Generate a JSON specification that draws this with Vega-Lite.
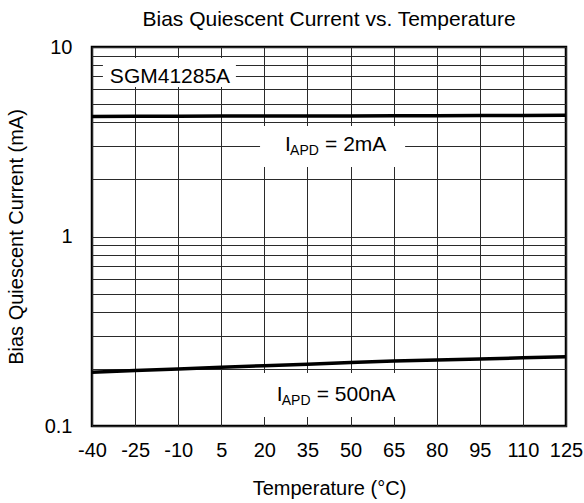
{
  "$schema": "https://vega.github.io/schema/vega-lite/v6.json",
  "width": 474,
  "height": 379,
  "autosize": {"type": "none"},
  "padding": {"left": 92, "top": 47, "right": 18, "bottom": 77},
  "background": "white",
  "config": {
    "font": "Liberation Sans",
    "view": {"stroke": "black", "strokeWidth": 2.5},
    "axis": {
      "domain": false,
      "ticks": false,
      "labelColor": "black",
      "labelFontSize": 20,
      "titleFontSize": 20,
      "titleFontWeight": "normal",
      "titleColor": "black",
      "gridColor": "#2a2a2a",
      "gridWidth": 1,
      "gridOpacity": 1
    }
  },
  "title": {
    "text": "Bias Quiescent Current vs. Temperature",
    "fontSize": 21,
    "fontWeight": "normal",
    "color": "black",
    "offset": 7
  },
  "datasets": {
    "curves": [
      {"t": -40, "i": 4.30, "s": "2mA"},
      {"t": -25, "i": 4.31, "s": "2mA"},
      {"t": -10, "i": 4.31, "s": "2mA"},
      {"t": 5, "i": 4.32, "s": "2mA"},
      {"t": 20, "i": 4.32, "s": "2mA"},
      {"t": 35, "i": 4.33, "s": "2mA"},
      {"t": 50, "i": 4.33, "s": "2mA"},
      {"t": 65, "i": 4.34, "s": "2mA"},
      {"t": 80, "i": 4.34, "s": "2mA"},
      {"t": 95, "i": 4.35, "s": "2mA"},
      {"t": 110, "i": 4.35, "s": "2mA"},
      {"t": 125, "i": 4.36, "s": "2mA"},
      {"t": -40, "i": 0.192, "s": "500nA"},
      {"t": -25, "i": 0.196, "s": "500nA"},
      {"t": -10, "i": 0.200, "s": "500nA"},
      {"t": 5, "i": 0.204, "s": "500nA"},
      {"t": 20, "i": 0.208, "s": "500nA"},
      {"t": 35, "i": 0.212, "s": "500nA"},
      {"t": 50, "i": 0.216, "s": "500nA"},
      {"t": 65, "i": 0.220, "s": "500nA"},
      {"t": 80, "i": 0.223, "s": "500nA"},
      {"t": 95, "i": 0.226, "s": "500nA"},
      {"t": 110, "i": 0.229, "s": "500nA"},
      {"t": 125, "i": 0.232, "s": "500nA"}
    ],
    "boxes": [
      {"x1": -36.2, "x2": 10.1, "y1": 8.75, "y2": 6.15},
      {"x1": 18.5, "x2": 69, "y1": 3.83, "y2": 2.33},
      {"x1": 17.8, "x2": 72.7, "y1": 0.1905, "y2": 0.1116}
    ],
    "names": [
      {"x": -12.85, "y": 6.43, "label": "SGM41285A"}
    ],
    "iapd": [
      {"x": 27.2, "y": 2.83, "rest": "= 2mA"},
      {"x": 24.3, "y": 0.136, "rest": "= 500nA"}
    ]
  },
  "layer": [
    {
      "data": {"name": "boxes"},
      "mark": {"type": "rect", "color": "white", "strokeWidth": 0},
      "encoding": {
        "x": {
          "field": "x1", "type": "quantitative",
          "scale": {"domain": [-40, 125], "nice": false, "zero": false},
          "axis": {
            "values": [-40, -25, -10, 5, 20, 35, 50, 65, 80, 95, 110, 125],
            "grid": true,
            "labelPadding": 14,
            "labelFlush": false,
            "labelExpr": "'' + datum.value",
            "titlePadding": 18,
            "title": "Temperature (°C)"
          }
        },
        "x2": {"field": "x2"},
        "y": {
          "field": "y1", "type": "quantitative",
          "scale": {"type": "log", "domain": [0.1, 10], "nice": false},
          "axis": {
            "values": [0.1, 0.2, 0.3, 0.4, 0.5, 0.6, 0.7, 0.8, 0.9, 1, 2, 3, 4, 5, 6, 7, 8, 9, 10],
            "grid": true,
            "labelPadding": 20,
            "labelFlush": false,
            "labelExpr": "datum.value == 0.1 ? '0.1' : datum.value == 1 ? '1' : datum.value == 10 ? '10' : ''",
            "titlePadding": 18,
            "title": "Bias Quiescent Current (mA)"
          }
        },
        "y2": {"field": "y2"}
      }
    },
    {
      "data": {"name": "curves"},
      "mark": {"type": "line", "color": "black", "strokeWidth": 3.5},
      "encoding": {
        "x": {"field": "t", "type": "quantitative"},
        "y": {"field": "i", "type": "quantitative"},
        "detail": {"field": "s"}
      }
    },
    {
      "data": {"name": "names"},
      "mark": {"type": "text", "fontSize": 21, "color": "black", "align": "center", "baseline": "alphabetic"},
      "encoding": {
        "x": {"field": "x", "type": "quantitative"},
        "y": {"field": "y", "type": "quantitative"},
        "text": {"field": "label"}
      }
    },
    {
      "data": {"name": "iapd"},
      "mark": {"type": "text", "fontSize": 21, "color": "black", "align": "left", "baseline": "alphabetic"},
      "encoding": {
        "x": {"field": "x", "type": "quantitative"},
        "y": {"field": "y", "type": "quantitative"},
        "text": {"value": "I"}
      }
    },
    {
      "data": {"name": "iapd"},
      "mark": {"type": "text", "fontSize": 14, "color": "black", "align": "left", "baseline": "alphabetic", "dx": 5, "dy": 4},
      "encoding": {
        "x": {"field": "x", "type": "quantitative"},
        "y": {"field": "y", "type": "quantitative"},
        "text": {"value": "APD"}
      }
    },
    {
      "data": {"name": "iapd"},
      "mark": {"type": "text", "fontSize": 21, "color": "black", "align": "left", "baseline": "alphabetic", "dx": 40},
      "encoding": {
        "x": {"field": "x", "type": "quantitative"},
        "y": {"field": "y", "type": "quantitative"},
        "text": {"field": "rest"}
      }
    }
  ]
}
